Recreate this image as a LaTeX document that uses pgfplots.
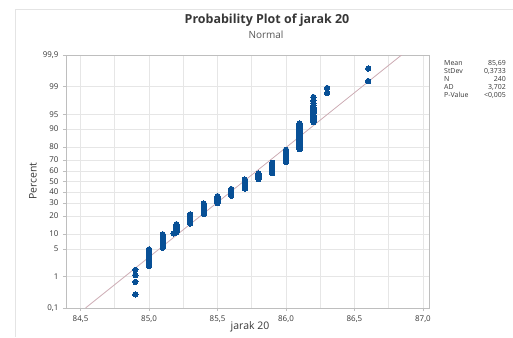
\documentclass[border=0pt]{standalone}
\usepackage{pgfplots}
\pgfplotsset{compat=1.18}
\usepackage{fontspec}
\setmainfont{Open Sans}
\definecolor{dotblue}{RGB}{8,80,150}
\definecolor{fitline}{RGB}{205,172,180}
\definecolor{gridc}{RGB}{230,230,230}
\definecolor{framec}{RGB}{190,190,190}
\definecolor{txt}{RGB}{55,55,55}
\definecolor{outer}{RGB}{228,228,228}
\begin{document}
\begin{tikzpicture}[x=1bp,y=1bp]
\useasboundingbox (-66,-29) rectangle (447,308);
\draw[outer,line width=0.6bp] (-51,299) -- (447,299);
\draw[outer,line width=0.6bp] (-51,299) -- (-51,-29);
\begin{axis}[at={(0,0)}, anchor=south west, scale only axis,
  width=363bp, height=253bp,
  xmin=84.394, xmax=87.044, ymin=-3.0902, ymax=3.0902,
  xtick={84.5,85,85.5,86,86.5,87},
  xticklabels={{84,5},{85,0},{85,5},{86,0},{86,5},{87,0}},
  minor xtick={84.75,85.25,85.75,86.25,86.75},
  ytick={-3.0902,-2.3263,-1.6449,-1.2816,-0.8416,-0.5244,-0.2533,0,0.2533,0.5244,0.8416,1.2816,1.6449,2.3263,3.0902},
  yticklabels={{0,1},1,5,10,20,30,40,50,60,70,80,90,95,99,{99,9}},
  grid=both, major grid style={gridc,line width=0.6bp}, minor grid style={gridc,line width=0.6bp},
  axis line style={framec,line width=0.7bp},
  tick style={framec,line width=0.6bp}, tick align=outside, major tick length=3bp, minor tick length=0bp,
  tick pos=left,
  ticklabel style={font=\fontsize{8}{9}\selectfont, text=txt},
  xticklabel style={yshift=-1bp},
  yticklabel style={xshift=-1bp},
]
\addplot[fitline, line width=0.8bp] coordinates {(84.5364,-3.0902) (86.8436,3.0902)};
\addplot[only marks, mark=*, mark size=2.7bp, mark options={fill=dotblue, draw=dotblue, line width=0pt}] coordinates {
(84.9,-2.758)(84.9,-2.453)(84.9,-2.284)(84.9,-2.160)
(85.0,-2.063)(85.0,-1.982)(85.0,-1.913)(85.0,-1.851)(85.0,-1.797)(85.0,-1.747)(85.0,-1.700)(85.0,-1.658)
(85.1,-1.618)(85.1,-1.580)(85.1,-1.545)(85.1,-1.511)(85.1,-1.480)(85.1,-1.449)(85.1,-1.420)(85.1,-1.392)(85.1,-1.365)(85.1,-1.339)(85.1,-1.314)(85.1,-1.290)
(85.18,-1.266)
(85.2,-1.243)(85.2,-1.221)(85.2,-1.199)(85.2,-1.178)(85.2,-1.157)(85.2,-1.137)(85.2,-1.118)(85.2,-1.098)(85.2,-1.080)(85.2,-1.061)(85.2,-1.043)
(85.3,-1.025)(85.3,-1.008)(85.3,-0.990)(85.3,-0.973)(85.3,-0.957)(85.3,-0.941)(85.3,-0.925)(85.3,-0.909)(85.3,-0.893)(85.3,-0.877)(85.3,-0.862)(85.3,-0.847)(85.3,-0.832)(85.3,-0.818)(85.3,-0.803)
(85.4,-0.789)(85.4,-0.775)(85.4,-0.761)(85.4,-0.747)(85.4,-0.733)(85.4,-0.720)(85.4,-0.706)(85.4,-0.693)(85.4,-0.679)(85.4,-0.667)(85.4,-0.654)(85.4,-0.641)(85.4,-0.628)(85.4,-0.615)(85.4,-0.603)(85.4,-0.590)(85.4,-0.578)(85.4,-0.566)(85.4,-0.553)(85.4,-0.541)
(85.5,-0.529)(85.5,-0.517)(85.5,-0.506)(85.5,-0.494)(85.5,-0.482)(85.5,-0.470)(85.5,-0.459)(85.5,-0.447)(85.5,-0.436)(85.5,-0.424)(85.5,-0.413)(85.5,-0.402)(85.5,-0.390)(85.5,-0.379)(85.5,-0.368)(85.5,-0.357)
(85.6,-0.346)(85.6,-0.335)(85.6,-0.324)(85.6,-0.313)(85.6,-0.302)(85.6,-0.291)(85.6,-0.280)(85.6,-0.269)(85.6,-0.258)(85.6,-0.248)(85.6,-0.237)(85.6,-0.226)(85.6,-0.215)(85.6,-0.205)(85.6,-0.194)(85.6,-0.184)
(85.7,-0.173)(85.7,-0.162)(85.7,-0.152)(85.7,-0.141)(85.7,-0.131)(85.7,-0.120)(85.7,-0.110)(85.7,-0.099)(85.7,-0.089)(85.7,-0.078)(85.7,-0.068)(85.7,-0.057)(85.7,-0.047)(85.7,-0.037)(85.7,-0.026)(85.7,-0.016)(85.7,-0.005)(85.7,0.005)(85.7,0.016)(85.7,0.026)(85.7,0.037)(85.7,0.047)
(85.8,0.057)(85.8,0.068)(85.8,0.078)(85.8,0.089)(85.8,0.099)(85.8,0.110)(85.8,0.120)(85.8,0.131)(85.8,0.141)(85.8,0.152)(85.8,0.162)(85.8,0.173)(85.8,0.184)(85.8,0.194)
(85.9,0.205)(85.9,0.215)(85.9,0.226)(85.9,0.237)(85.9,0.248)(85.9,0.258)(85.9,0.269)(85.9,0.280)(85.9,0.291)(85.9,0.302)(85.9,0.313)(85.9,0.324)(85.9,0.335)(85.9,0.346)(85.9,0.357)(85.9,0.368)(85.9,0.379)(85.9,0.390)(85.9,0.402)(85.9,0.413)(85.9,0.424)(85.9,0.436)(85.9,0.447)(85.9,0.459)
(86.0,0.470)(86.0,0.482)(86.0,0.494)(86.0,0.506)(86.0,0.517)(86.0,0.529)(86.0,0.541)(86.0,0.553)(86.0,0.566)(86.0,0.578)(86.0,0.590)(86.0,0.603)(86.0,0.615)(86.0,0.628)(86.0,0.641)(86.0,0.654)(86.0,0.667)(86.0,0.679)(86.0,0.693)(86.0,0.706)(86.0,0.720)(86.0,0.733)(86.0,0.747)(86.0,0.761)(86.0,0.775)
(86.1,0.789)(86.1,0.803)(86.1,0.818)(86.1,0.832)(86.1,0.847)(86.1,0.862)(86.1,0.877)(86.1,0.893)(86.1,0.909)(86.1,0.925)(86.1,0.941)(86.1,0.957)(86.1,0.973)(86.1,0.990)(86.1,1.008)(86.1,1.025)(86.1,1.043)(86.1,1.061)(86.1,1.080)(86.1,1.098)(86.1,1.118)(86.1,1.137)(86.1,1.157)(86.1,1.178)(86.1,1.199)(86.1,1.221)(86.1,1.243)(86.1,1.266)(86.1,1.290)(86.1,1.314)(86.1,1.339)(86.1,1.365)(86.1,1.392)(86.1,1.420)
(86.2,1.449)(86.2,1.480)(86.2,1.511)(86.2,1.545)(86.2,1.580)(86.2,1.618)(86.2,1.658)(86.2,1.700)(86.2,1.747)(86.2,1.797)(86.2,1.851)(86.2,1.913)(86.2,1.982)(86.2,2.063)
(86.3,2.160)(86.3,2.284)
(86.6,2.453)(86.6,2.758)
};
\end{axis}
\node[font=\fontsize{12.5}{14}\selectfont\bfseries, text=txt] at (201,288) {Probability Plot of jarak 20};
\node[font=\fontsize{10}{11}\selectfont, text=txt!85] at (200,273) {Normal};
\node[font=\fontsize{10.5}{12}\selectfont, text=txt, rotate=90] at (-33,127) {Percent};
\node[font=\fontsize{10.5}{12}\selectfont, text=txt] at (184,-19) {jarak 20};
\begin{scope}[every node/.style={font=\fontsize{7}{8}\selectfont, text=txt, inner sep=0pt}]
\node[anchor=base west] at (378,243) {Mean};
\node[anchor=base east] at (440,243) {85,69};
\node[anchor=base west] at (378,235) {StDev};
\node[anchor=base east] at (440,235) {0,3733};
\node[anchor=base west] at (378,227) {N};
\node[anchor=base east] at (440,227) {240};
\node[anchor=base west] at (378,219) {AD};
\node[anchor=base east] at (440,219) {3,702};
\node[anchor=base west] at (378,211) {P-Value};
\node[anchor=base east] at (440,211) {<0,005};
\end{scope}
\end{tikzpicture}
\end{document}
